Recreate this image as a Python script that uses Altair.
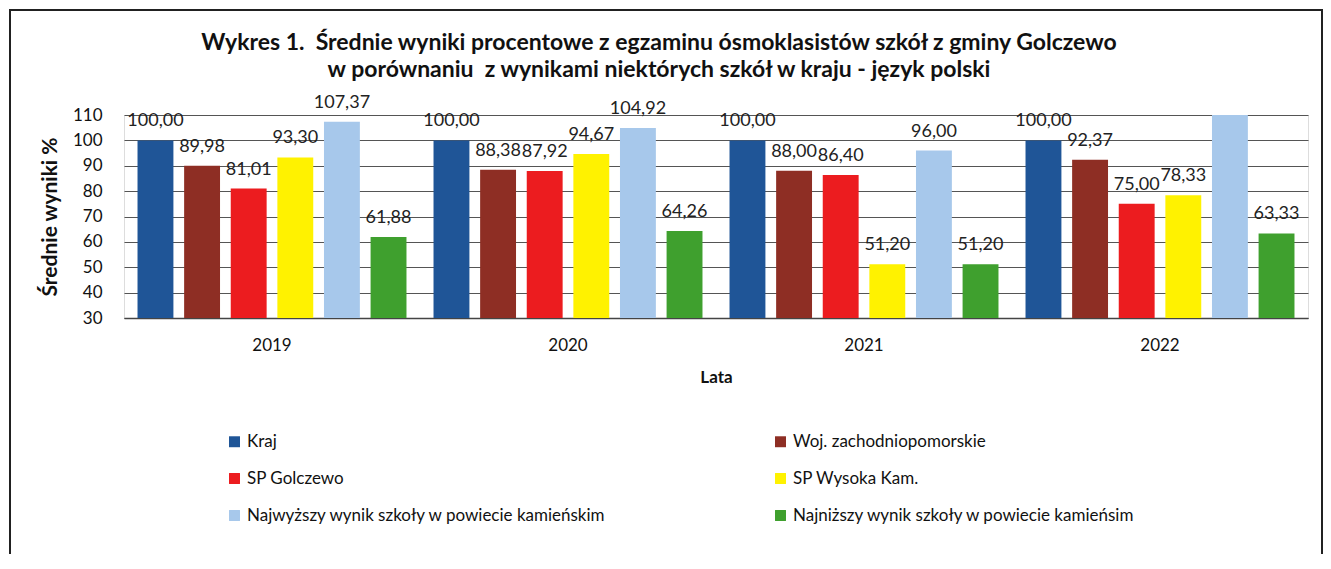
import altair as alt
import pandas as pd

years = ["2019", "2020", "2021", "2022"]
series = [
    "Kraj",
    "Woj. zachodniopomorskie",
    "SP Golczewo",
    "SP Wysoka Kam.",
    "Najwyższy wynik szkoły w powiecie kamieńskim",
    "Najniższy wynik szkoły w powiecie kamieńsim",
]
kraj = [100.00, 100.00, 100.00, 100.00]
woj = [89.98, 88.38, 88.00, 92.37]
golczewo = [81.01, 87.92, 86.40, 75.00]
wysoka = [93.30, 94.67, 51.20, 78.33]
najwyzszy = [107.37, 104.92, 96.00, 112.00]  # 2022 bar runs past the axis top; value estimated
najnizszy = [61.88, 64.26, 51.20, 63.33]
colors = ["#1F5597", "#8E2E24", "#EC1C1F", "#FFF200", "#A7C8EB", "#3FA02E"]
y_ticks = [30, 40, 50, 60, 70, 80, 90, 100, 110]

values = [kraj, woj, golczewo, wysoka, najwyzszy, najnizszy]
rows = []
for s, vals in zip(series, values):
    for y, v in zip(years, vals):
        rows.append({"year": y, "series": s, "v": v})
df = pd.DataFrame(rows)

FONT = "Lato"

x_enc = alt.X(
    "year:N",
    sort=years,
    scale=alt.Scale(paddingInner=0, paddingOuter=0),
    axis=alt.Axis(
        title="Lata",
        labelAngle=0,
        labelFontSize=17,
        labelColor="#111",
        labelPadding=19,
        ticks=False,
        domain=True,
        domainColor="#444",
        domainWidth=1.5,
        titleFontSize=17,
        titleFontWeight="bold",
        titleColor="#111",
        titlePadding=16,
    ),
)
xo_enc = alt.XOffset(
    "series:N", sort=series, scale=alt.Scale(paddingInner=0.23, paddingOuter=0.29)
)
y_scale = alt.Scale(domain=[30, 110], nice=False, zero=False)
y_axis = alt.Axis(
    values=y_ticks,
    labelOverlap=False,
    grid=True,
    gridColor="#555",
    gridWidth=1.2,
    domain=False,
    ticks=False,
    labelFontSize=17,
    labelColor="#111",
    labelPadding=22,
    title="Średnie wyniki %",
    titleFontSize=21,
    titleFontWeight="bold",
    titleColor="#111",
    titlePadding=12,
)
y_enc = alt.Y("v:Q", scale=y_scale, axis=y_axis)

bars = alt.Chart(df).mark_bar(clip=True).encode(
    x=x_enc,
    xOffset=xo_enc,
    y=y_enc,
    color=alt.Color(
        "series:N",
        sort=series,
        scale=alt.Scale(domain=series, range=colors),
        legend=alt.Legend(
            title=None,
            orient="none",
            direction="horizontal",
            legendX=102,
            legendY=318,
            columns=2,
            columnPadding=165,
            rowPadding=19,
            symbolType="square",
            symbolSize=120,
            symbolStrokeWidth=0,
            labelFontSize=17,
            labelColor="#111",
            labelFont=FONT,
            labelLimit=500,
            labelOffset=4,
        ),
    ),
)

labels = (
    alt.Chart(df)
    .transform_filter("datum.v <= 110")
    .transform_calculate(label="replace(format(datum.v, '.2f'), '.', ',')")
    .mark_text(baseline="alphabetic", dy=-14, fontSize=18, color="#222", font=FONT)
    .encode(x=x_enc, xOffset=xo_enc, y=y_enc, text="label:N")
)

frame = alt.Chart(df).mark_rect(filled=False, stroke="#222", strokeWidth=1.5).encode(
    x=alt.value(-114), x2=alt.value(1198), y=alt.value(-105), y2=alt.value(470)
)

chart = (
    alt.layer(bars, labels, frame)
    .properties(
        width=1184,
        height=203,
        autosize=alt.AutoSizeParams(type="none"),
        padding={"left": 116, "top": 107, "right": 15, "bottom": 236},
        title=alt.TitleParams(
            text=[
                "Wykres 1.\u00a0 Średnie wyniki procentowe z egzaminu ósmoklasistów szkół z gminy Golczewo",
                "w porównaniu\u00a0 z wynikami niektórych szkół w kraju - język polski",
            ],
            font=FONT,
            fontSize=23,
            fontWeight="bold",
            color="#111",
            anchor="middle",
            dx=-57,
            offset=-73,
            lineHeight=27,
        ),
    )
    .configure_view(strokeWidth=0)
    .configure(font=FONT, background="white")
)

chart.save("out.html", embed_options={"renderer": "svg", "actions": False})
